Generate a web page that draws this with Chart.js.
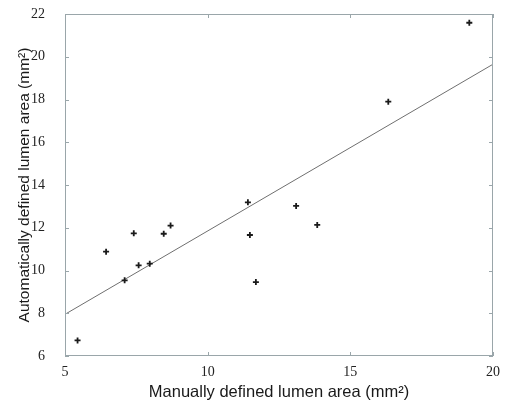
<!DOCTYPE html>
<html>
<head>
<meta charset="utf-8">
<script src="https://cdn.jsdelivr.net/npm/chart.js@4"></script>
<style>
  html, body { margin: 0; padding: 0; background: #fff; }
  #wrap { width: 506px; height: 402px; }
</style>
</head>
<body>
<div id="wrap"><canvas id="chart" width="506" height="402"></canvas></div>
<script>
// Manually vs automatically defined lumen area (mm2)
const manualArea = [5.44, 6.44, 7.09, 7.41, 7.58, 7.97, 8.46, 8.70, 11.41, 11.48, 11.69, 13.10, 13.84, 16.33, 19.17];
const autoArea   = [6.73, 10.88, 9.54, 11.74, 10.24, 10.32, 11.72, 12.10, 13.19, 11.66, 9.46, 13.02, 12.13, 17.90, 21.59];

// regression line end points
const fitX = [5, 20];
const fitY = [7.95, 19.65];

const xTicks = [5, 10, 15, 20];
const yTicks = [6, 8, 10, 12, 14, 16, 18, 20, 22];

const points = manualArea.map((x, i) => ({ x: x, y: autoArea[i] }));
const fitLine = fitX.map((x, i) => ({ x: x, y: fitY[i] }));

// box with small inward ticks on all four sides
const boxTicks = {
    id: 'boxTicks',
    afterDraw(chart) {
        const { ctx, chartArea: a, scales } = chart;
        const len = 4;
        ctx.save();
        ctx.strokeStyle = '#9aa6aa';
        ctx.lineWidth = 1;
        ctx.strokeRect(a.left + 0.5, a.top + 0.5, a.right - a.left - 1, a.bottom - a.top - 1);
        ctx.beginPath();
        xTicks.forEach(v => {
            const px = Math.round(scales.x.getPixelForValue(v)) + 0.5;
            ctx.moveTo(px, a.bottom); ctx.lineTo(px, a.bottom - len);
            ctx.moveTo(px, a.top); ctx.lineTo(px, a.top + len);
        });
        yTicks.forEach(v => {
            const py = Math.round(scales.y.getPixelForValue(v)) + 0.5;
            ctx.moveTo(a.left, py); ctx.lineTo(a.left + len, py);
            ctx.moveTo(a.right, py); ctx.lineTo(a.right - len, py);
        });
        ctx.stroke();
        ctx.restore();
    }
};

const ctx = document.getElementById('chart').getContext('2d');
new Chart(ctx, {
    type: 'scatter',
    data: {
        datasets: [{
            label: 'Fit',
            type: 'line',
            data: fitLine,
            borderColor: '#6f6f6f',
            borderWidth: 1,
            pointRadius: 0,
            fill: false,
            order: 2
        }, {
            label: 'Lumen area',
            data: points,
            pointStyle: 'cross',
            pointRadius: 3,
            borderColor: '#1a1a1a',
            backgroundColor: '#1a1a1a',
            borderWidth: 1.8,
            order: 1
        }]
    },
    options: {
        responsive: false,
        animation: false,
        layout: { padding: { top: 14, right: 13, left: 0, bottom: 0 } },
        plugins: { legend: { display: false }, tooltip: { enabled: false } },
        scales: {
            x: {
                type: 'linear',
                min: 5, max: 20,
                afterBuildTicks: s => { s.ticks = xTicks.map(v => ({ value: v })); },
                afterFit: s => { s.height = 46; s.paddingLeft = 0; s.paddingRight = 0; },
                grid: { display: false },
                border: { display: false },
                ticks: {
                    color: '#222',
                    font: { family: 'Liberation Serif', size: 14 },
                    padding: 0,
                    maxRotation: 0
                },
                title: {
                    display: true,
                    text: 'Manually defined lumen area (mm²)',
                    color: '#1a1a1a',
                    font: { family: 'Liberation Sans', size: 16.5 },
                    padding: { top: 0, bottom: 0 }
                }
            },
            y: {
                type: 'linear',
                min: 6, max: 22,
                afterBuildTicks: s => { s.ticks = yTicks.map(v => ({ value: v })); },
                afterFit: s => { s.width = 65; s.paddingTop = 0; s.paddingBottom = 0; },
                grid: { display: false },
                border: { display: false },
                ticks: {
                    color: '#222',
                    font: { family: 'Liberation Serif', size: 14 },
                    padding: 12
                },
                title: {
                    display: true,
                    text: 'Automatically defined lumen area (mm²)',
                    color: '#1a1a1a',
                    font: { family: 'Liberation Sans', size: 15.5 },
                    padding: { top: 15, bottom: 0 }
                }
            }
        }
    },
    plugins: [boxTicks]
});
</script>
</body>
</html>
